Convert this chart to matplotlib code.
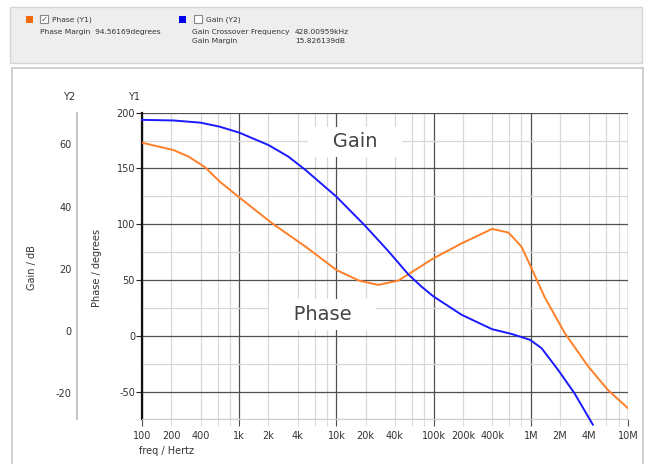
import numpy as np
from matplotlib import pyplot as plt
from matplotlib.patches import Rectangle
from matplotlib.lines import Line2D
from matplotlib.ticker import FixedLocator, FuncFormatter

plt.rcParams['axes.unicode_minus'] = False

# gain curve (Y2, dB)
gain_freq = [100, 211, 400, 630, 1e3, 2e3, 3.2e3, 4.8e3, 1e4, 1.94e4, 3.4e4, 5.5e4, 7.5e4, 1e5,
             1.95e5, 4e5, 6.3e5, 9.8e5, 1.29e6, 1.9e6, 2.8e6, 4.35e6]
gain_db = [67.9, 67.7, 67.0, 65.7, 63.8, 59.8, 56.1, 51.8, 43.2, 34.1, 25.8, 18.2, 14.3, 11.1,
           5.2, 0.6, -0.9, -2.8, -5.5, -12.4, -19.9, -30.1]

# phase curve (Y1, degrees)
phase_freq = [100, 211, 302, 447, 630, 1e3, 2.18e3, 4.8e3, 1e4, 1.7e4, 2.7e4, 4.35e4,
              1e5, 1.95e5, 4e5, 5.9e5, 8e5, 1e6, 1.38e6, 2.24e6, 3.9e6, 6.2e6, 1e7]
phase_deg = [173.1, 166.5, 160.6, 151, 138.2, 124.1, 100.8, 80, 59, 49.5, 45.6, 49.5,
             69.5, 82.9, 95.8, 92.5, 80, 62, 35.1, 2.3, -27.6, -48.5, -65]

y1_ticks = [-50, 0, 50, 100, 150, 200]
y2_ticks = [-20, 0, 20, 40, 60]

ORANGE = '#ff7f27'
BLUE = '#1a1aff'
TXT = '#333333'


def freq_label(f, pos=None):
    if f >= 1e6:
        return '%gM' % (f / 1e6)
    if f >= 1e3:
        return '%gk' % (f / 1e3)
    return '%g' % f


def minor_label(f, pos=None):
    m = round(f / 10 ** np.floor(np.log10(f) + 1e-9))
    if m in (2, 4):
        return freq_label(f)
    return ''


fig = plt.figure(figsize=(6.47, 4.66), dpi=100)
W, H = 647, 466

# header panel and frame
fig.patches.append(Rectangle((10 / W, 1 - 63 / H), 632 / W, 56 / H, transform=fig.transFigure,
                             facecolor='#eeeeee', edgecolor='#d6d6d6', lw=1))
for xs, ys in [([12, 12], [68, 463]), ([643, 643], [68, 463]), ([12, 643], [68, 68])]:
    fig.add_artist(Line2D([x / W for x in xs], [1 - y / H for y in ys], color='#c8c8c8', lw=1.2))

# header legend
fig.patches.append(Rectangle((26 / W, 1 - 23 / H), 7 / W, 7 / H, transform=fig.transFigure,
                             facecolor='#f26c0c', edgecolor='none'))
fig.patches.append(Rectangle((40 / W, 1 - 23 / H), 8 / W, 8 / H, transform=fig.transFigure,
                             facecolor='white', edgecolor='#888888', lw=0.8))
fig.text(41 / W, 1 - 19.5 / H, '\u2713', fontsize=6, color='#555555', va='center')
fig.patches.append(Rectangle((179 / W, 1 - 23 / H), 7 / W, 7 / H, transform=fig.transFigure,
                             facecolor='#0000ee', edgecolor='none'))
fig.patches.append(Rectangle((194 / W, 1 - 23 / H), 8 / W, 8 / H, transform=fig.transFigure,
                             facecolor='white', edgecolor='#888888', lw=0.8))
hs = 5.4
fig.text(52 / W, 1 - 19.5 / H, 'Phase (Y1)', fontsize=hs, color=TXT, va='center')
fig.text(40 / W, 1 - 32 / H, 'Phase Margin  94.56169degrees', fontsize=hs, color=TXT, va='center')
fig.text(206 / W, 1 - 19.5 / H, 'Gain (Y2)', fontsize=hs, color=TXT, va='center')
fig.text(192 / W, 1 - 32 / H, 'Gain Crossover Frequency', fontsize=hs, color=TXT, va='center')
fig.text(295 / W, 1 - 32 / H, '428.00959kHz', fontsize=hs, color=TXT, va='center')
fig.text(192 / W, 1 - 41 / H, 'Gain Margin', fontsize=hs, color=TXT, va='center')
fig.text(295 / W, 1 - 41 / H, '15.826139dB', fontsize=hs, color=TXT, va='center')

# main axes
ax = fig.add_axes([142 / W, 1 - 419.4 / H, (628 - 142) / W, (419.4 - 112.7) / H])
ax.set_xscale('log')
ax.set_xlim(100, 1e7)
ax.set_ylim(-75, 200)

ax.xaxis.set_major_locator(FixedLocator([1e2, 1e3, 1e4, 1e5, 1e6, 1e7]))
ax.xaxis.set_major_formatter(FuncFormatter(freq_label))
minors = [m * 10 ** e for e in range(2, 7) for m in (2, 4, 6, 8)]
ax.xaxis.set_minor_locator(FixedLocator(minors))
ax.xaxis.set_minor_formatter(FuncFormatter(minor_label))
ax.set_yticks(y1_ticks)
ax.set_yticks(np.arange(-75, 200, 50), minor=True)

ax.grid(True, which='major', color='#505050', lw=0.9)
ax.grid(True, which='minor', color='#d8d8d8', lw=0.9)
ax.set_axisbelow(True)

ax.tick_params(axis='x', which='major', length=5, color='#505050', labelsize=7, labelcolor=TXT, pad=3)
ax.tick_params(axis='x', which='minor', length=5, color='#d8d8d8', labelsize=7, labelcolor=TXT, pad=3)
ax.tick_params(axis='y', which='major', length=4, color='#222222', labelsize=7, labelcolor=TXT, pad=1)
ax.tick_params(axis='y', which='minor', length=0)

for s in ['top', 'right']:
    ax.spines[s].set_visible(False)
ax.spines['bottom'].set_color('#cccccc')
ax.spines['left'].set_color('#111111')
ax.spines['left'].set_linewidth(1.6)

ax.plot(phase_freq, phase_deg, color=ORANGE, lw=1.4, zorder=3)

box = dict(facecolor='white', edgecolor='none', pad=4)
ax.text(1.55e4, 174, '   Gain   ', fontsize=14, color='#444444', ha='center', va='center',
        zorder=4, bbox=box)
ax.text(7.2e3, 19, '   Phase   ', fontsize=14, color='#444444', ha='center', va='center',
        zorder=4, bbox=box)

# gain axis (Y2)
ax2 = ax.twinx()
ax2.set_ylim(-28.4, 70.2)
ax2.set_yticks(y2_ticks)
ax2.yaxis.set_ticks_position('left')
ax2.spines['left'].set_position(('axes', -0.134))
ax2.spines['left'].set_color('#c8c8c8')
ax2.spines['left'].set_linewidth(1.5)
for s in ['top', 'right', 'bottom']:
    ax2.spines[s].set_visible(False)
ax2.tick_params(axis='y', length=0, labelsize=7, labelcolor=TXT, pad=4)
ax2.plot(gain_freq, gain_db, color=BLUE, lw=1.4, zorder=3, clip_on=False)
ax2.set_xlim(100, 1e7)

# axis titles
fig.text(69 / W, 1 - 97 / H, 'Y2', fontsize=7, color=TXT, ha='center', va='center')
fig.text(134 / W, 1 - 97 / H, 'Y1', fontsize=7, color=TXT, ha='center', va='center')
fig.text(32 / W, 1 - 268 / H, 'Gain / dB', fontsize=7, color=TXT, ha='center', va='center', rotation=90)
fig.text(97 / W, 1 - 268 / H, 'Phase / degrees', fontsize=7, color=TXT, ha='center', va='center', rotation=90)
fig.text(139 / W, 1 - 451 / H, 'freq / Hertz', fontsize=7, color=TXT, ha='left', va='center')

plt.savefig('out.png', dpi=100)
plt.close()
